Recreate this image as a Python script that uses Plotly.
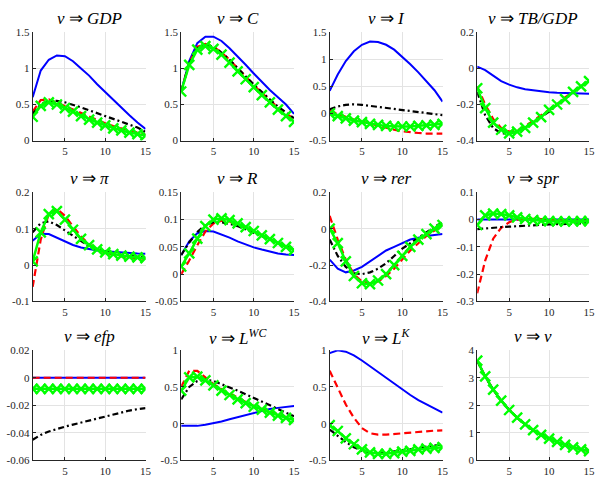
import plotly.graph_objects as go

periods = list(range(1, 16))

titles = ["<i>v</i> ⇒ <i>GDP</i>", "<i>v</i> ⇒ <i>C</i>", "<i>v</i> ⇒ <i>I</i>", "<i>v</i> ⇒ <i>TB/GDP</i>",
          "<i>v</i> ⇒ <i>π</i>", "<i>v</i> ⇒ <i>R</i>", "<i>v</i> ⇒ <i>rer</i>", "<i>v</i> ⇒ <i>spr</i>",
          "<i>v</i> ⇒ <i>efp</i>", "<i>v</i> ⇒ <i>L<sup>WC</sup></i>", "<i>v</i> ⇒ <i>L<sup>K</sup></i>", "<i>v</i> ⇒ <i>v</i>"]

# series per panel: blue, red, black, green
gdp_blue = [0.6, 0.97, 1.12, 1.18, 1.17, 1.1, 1.0, 0.9, 0.78, 0.67, 0.56, 0.45, 0.35, 0.25, 0.16]
gdp_red = [0.4, 0.56, 0.57, 0.53, 0.48, 0.43, 0.38, 0.33, 0.28, 0.24, 0.2, 0.17, 0.14, 0.11, 0.08]
gdp_black = [0.37, 0.5, 0.55, 0.55, 0.53, 0.5, 0.46, 0.42, 0.38, 0.34, 0.3, 0.26, 0.22, 0.18, 0.12]
gdp_green = [0.33, 0.48, 0.53, 0.5, 0.45, 0.4, 0.34, 0.29, 0.25, 0.21, 0.17, 0.14, 0.11, 0.09, 0.07]

c_blue = [0.68, 1.1, 1.35, 1.44, 1.44, 1.38, 1.28, 1.17, 1.05, 0.93, 0.81, 0.7, 0.6, 0.5, 0.37]
c_red = [0.68, 1.08, 1.3, 1.34, 1.3, 1.22, 1.12, 1.0, 0.88, 0.77, 0.66, 0.56, 0.46, 0.38, 0.3]
c_black = [0.68, 1.07, 1.28, 1.33, 1.3, 1.22, 1.12, 1.0, 0.89, 0.78, 0.67, 0.57, 0.47, 0.39, 0.31]
c_green = [0.68, 1.05, 1.26, 1.31, 1.27, 1.19, 1.08, 0.96, 0.85, 0.74, 0.63, 0.53, 0.43, 0.34, 0.26]

i_blue = [0.42, 0.72, 0.97, 1.15, 1.27, 1.33, 1.32, 1.27, 1.18, 1.05, 0.91, 0.76, 0.6, 0.43, 0.22]
i_red = [0.05, -0.01, -0.06, -0.11, -0.15, -0.19, -0.23, -0.27, -0.3, -0.33, -0.35, -0.36, -0.37, -0.37, -0.37]
i_black = [0.08, 0.13, 0.16, 0.17, 0.16, 0.14, 0.12, 0.1, 0.08, 0.06, 0.04, 0.02, 0.0, -0.01, -0.03]
i_green = [0.0, -0.05, -0.09, -0.13, -0.16, -0.19, -0.21, -0.23, -0.24, -0.24, -0.24, -0.23, -0.22, -0.21, -0.19]

tb_blue = [0.01, -0.01, -0.04, -0.07, -0.09, -0.105, -0.115, -0.122, -0.128, -0.132, -0.135, -0.137, -0.138, -0.139, -0.14]
tb_red = [-0.1, -0.2, -0.28, -0.33, -0.35, -0.345, -0.32, -0.29, -0.26, -0.23, -0.2, -0.16, -0.13, -0.1, -0.07]
tb_black = [-0.13, -0.26, -0.33, -0.36, -0.36, -0.35, -0.33, -0.3, -0.27, -0.24, -0.2, -0.17, -0.13, -0.1, -0.07]
tb_green = [-0.11, -0.22, -0.3, -0.34, -0.36, -0.35, -0.33, -0.3, -0.27, -0.23, -0.2, -0.17, -0.13, -0.1, -0.07]

pi_blue = [0.067, 0.086, 0.085, 0.075, 0.064, 0.055, 0.048, 0.043, 0.04, 0.038, 0.036, 0.034, 0.033, 0.032, 0.031]
pi_red = [-0.06, 0.07, 0.14, 0.155, 0.135, 0.105, 0.078, 0.057, 0.043, 0.034, 0.028, 0.024, 0.021, 0.019, 0.017]
pi_black = [0.09, 0.115, 0.12, 0.11, 0.095, 0.08, 0.065, 0.052, 0.043, 0.037, 0.032, 0.028, 0.025, 0.022, 0.02]
pi_green = [0.01, 0.09, 0.14, 0.148, 0.125, 0.097, 0.072, 0.055, 0.043, 0.035, 0.03, 0.026, 0.023, 0.021, 0.019]

r_blue = [0.035, 0.06, 0.075, 0.079, 0.078, 0.073, 0.067, 0.06, 0.054, 0.049, 0.045, 0.041, 0.038, 0.036, 0.035]
r_red = [0.0, 0.025, 0.053, 0.078, 0.093, 0.098, 0.096, 0.091, 0.085, 0.078, 0.071, 0.064, 0.057, 0.05, 0.044]
r_black = [0.035, 0.058, 0.077, 0.09, 0.095, 0.095, 0.092, 0.088, 0.082, 0.076, 0.07, 0.063, 0.057, 0.051, 0.045]
r_green = [0.014, 0.038, 0.065, 0.088, 0.1, 0.102, 0.099, 0.093, 0.086, 0.079, 0.071, 0.064, 0.057, 0.05, 0.044]

rer_blue = [-0.17, -0.22, -0.24, -0.23, -0.21, -0.18, -0.15, -0.12, -0.1, -0.08, -0.06, -0.05, -0.04, -0.035, -0.03]
rer_red = [0.07, -0.06, -0.17, -0.25, -0.29, -0.3, -0.29, -0.26, -0.22, -0.17, -0.12, -0.08, -0.04, -0.01, 0.02]
rer_black = [-0.06, -0.15, -0.21, -0.245, -0.25, -0.24, -0.22, -0.19, -0.15, -0.11, -0.08, -0.05, -0.02, 0.01, 0.035]
rer_green = [0.0, -0.08, -0.18, -0.26, -0.3, -0.305, -0.285, -0.25, -0.2, -0.15, -0.1, -0.06, -0.03, 0.0, 0.02]

spr_blue = [0.0, 0.0, 0.0, 0.0, 0.0, 0.0, 0.0, 0.0, 0.0, 0.0, 0.0, 0.0, 0.0, 0.0, 0.0]
spr_red = [-0.27, -0.15, -0.07, -0.03, -0.01, 0.0, 0.003, 0.003, 0.002, 0.0, -0.002, -0.003, -0.004, -0.004, -0.004]
spr_black = [-0.035, -0.032, -0.03, -0.028, -0.026, -0.024, -0.022, -0.021, -0.019, -0.018, -0.017, -0.016, -0.015, -0.014, -0.013]
spr_green = [-0.02, 0.015, 0.022, 0.02, 0.015, 0.008, 0.002, -0.002, -0.005, -0.006, -0.007, -0.007, -0.007, -0.006, -0.006]

efp_blue = [0.0, 0.0, 0.0, 0.0, 0.0, 0.0, 0.0, 0.0, 0.0, 0.0, 0.0, 0.0, 0.0, 0.0, 0.0]
efp_red = [0.0, 0.0, 0.0, 0.0, 0.0, 0.0, 0.0, 0.0, 0.0, 0.0, 0.0, 0.0, 0.0, 0.0, 0.0]
efp_black = [-0.045, -0.0415, -0.039, -0.037, -0.0355, -0.034, -0.0325, -0.031, -0.0295, -0.028, -0.0265, -0.025, -0.0238, -0.0228, -0.022]
efp_green = [-0.008, -0.008, -0.008, -0.008, -0.008, -0.008, -0.008, -0.008, -0.008, -0.008, -0.008, -0.008, -0.008, -0.008, -0.008]

lwc_blue = [-0.03, -0.035, -0.03, -0.015, 0.005, 0.03, 0.06, 0.09, 0.12, 0.15, 0.175, 0.2, 0.215, 0.23, 0.24]
lwc_red = [0.5, 0.72, 0.72, 0.63, 0.54, 0.47, 0.41, 0.35, 0.29, 0.24, 0.2, 0.16, 0.12, 0.09, 0.06]
lwc_black = [0.33, 0.5, 0.58, 0.6, 0.58, 0.54, 0.5, 0.45, 0.4, 0.35, 0.3, 0.25, 0.2, 0.15, 0.1]
lwc_green = [0.45, 0.63, 0.64, 0.59, 0.52, 0.45, 0.39, 0.33, 0.28, 0.23, 0.19, 0.15, 0.11, 0.08, 0.05]

lk_blue = [0.96, 1.0, 0.98, 0.93, 0.86, 0.78, 0.7, 0.62, 0.54, 0.46, 0.39, 0.32, 0.26, 0.2, 0.15]
lk_red = [0.72, 0.48, 0.26, 0.08, -0.06, -0.13, -0.15, -0.15, -0.14, -0.13, -0.12, -0.11, -0.1, -0.095, -0.09]
lk_black = [-0.08, -0.17, -0.25, -0.32, -0.37, -0.39, -0.4, -0.39, -0.38, -0.37, -0.35, -0.33, -0.31, -0.3, -0.28]
lk_green = [-0.02, -0.1, -0.2, -0.28, -0.35, -0.39, -0.41, -0.41, -0.4, -0.38, -0.37, -0.35, -0.34, -0.33, -0.32]

v_all = [3.62, 3.05, 2.57, 2.17, 1.83, 1.55, 1.31, 1.1, 0.93, 0.79, 0.67, 0.56, 0.47, 0.4, 0.34]

panels = [
    (gdp_blue, gdp_red, gdp_black, gdp_green),
    (c_blue, c_red, c_black, c_green),
    (i_blue, i_red, i_black, i_green),
    (tb_blue, tb_red, tb_black, tb_green),
    (pi_blue, pi_red, pi_black, pi_green),
    (r_blue, r_red, r_black, r_green),
    (rer_blue, rer_red, rer_black, rer_green),
    (spr_blue, spr_red, spr_black, spr_green),
    (efp_blue, efp_red, efp_black, efp_green),
    (lwc_blue, lwc_red, lwc_black, lwc_green),
    (lk_blue, lk_red, lk_black, lk_green),
    (v_all, v_all, v_all, v_all),
]

y_ticks = [
    [0, 0.5, 1, 1.5], [0, 0.5, 1, 1.5], [-0.5, 0, 0.5, 1, 1.5], [-0.4, -0.2, 0, 0.2],
    [-0.1, 0, 0.1, 0.2], [-0.05, 0, 0.05, 0.1, 0.15], [-0.4, -0.2, 0, 0.2], [-0.3, -0.2, -0.1, 0, 0.1],
    [-0.06, -0.04, -0.02, 0, 0.02], [-0.5, 0, 0.5, 1], [-0.5, 0, 0.5, 1], [0, 1, 2, 3, 4],
]
y_labels = [
    ["0", "0.5", "1", "1.5"], ["0", "0.5", "1", "1.5"], ["-0.5", "0", "0.5", "1", "1.5"], ["-0.4", "-0.2", "0", "0.2"],
    ["-0.1", "0", "0.1", "0.2"], ["-0.05", "0", "0.05", "0.1", "0.15"], ["-0.4", "-0.2", "0", "0.2"], ["-0.3", "-0.2", "-0.1", "0", "0.1"],
    ["-0.06", "-0.04", "-0.02", "0", "0.02"], ["-0.5", "0", "0.5", "1"], ["-0.5", "0", "0.5", "1"], ["0", "1", "2", "3", "4"],
]
x_ticks = [5, 10, 15]
x_labels = ["5", "10", "15"]

W, H = 602, 482
col_px = [(33, 147), (183, 297), (333, 447), (482, 595)]
row_px = [(27, 138), (191, 303), (353, 466)]
title_y_px = [13, 177, 339]

SERIF = "Liberation Serif, Times New Roman, serif"

fig = go.Figure()
styles = [
    dict(color="#0000FF", width=2, dash="solid"),
    dict(color="#FF0000", width=2.2, dash="7px,4px"),
    dict(color="#000000", width=2.2, dash="6px,3px,2px,3px"),
]

layout = {}
annotations = []
for k in range(12):
    r, c = divmod(k, 4)
    ax = "" if k == 0 else str(k + 1)
    xa, ya = "x" + ax, "y" + ax
    series = panels[k]
    for s in range(3):
        fig.add_trace(go.Scatter(x=periods, y=series[s], mode="lines", line=styles[s],
                                 xaxis=xa, yaxis=ya, showlegend=False))
    fig.add_trace(go.Scatter(x=periods, y=series[3], mode="lines+markers",
                             line=dict(color="#00FF00", width=2.5),
                             marker=dict(symbol="x-thin", size=10, line=dict(color="#00FF00", width=2.4)),
                             xaxis=xa, yaxis=ya, showlegend=False))
    x0, x1 = col_px[c]
    y0, y1 = row_px[r]
    common = dict(showgrid=True, gridcolor="#e3e3e3", gridwidth=1, zeroline=False,
                  showline=True, linecolor="#262626", linewidth=1, ticks="inside", ticklen=3,
                  tickcolor="#262626", tickfont=dict(family=SERIF, size=11, color="#262626"))
    layout["xaxis" + ax] = dict(domain=[x0 / W, x1 / W], range=[1, 15], anchor=ya,
                                tickvals=x_ticks, ticktext=x_labels, **common)
    yt = y_ticks[k]
    layout["yaxis" + ax] = dict(domain=[1 - y1 / H, 1 - y0 / H], range=[yt[0], yt[-1]], anchor=xa,
                                tickvals=yt, ticktext=y_labels[k], **common)
    annotations.append(dict(text=titles[k], x=(x0 + x1) / 2 / W, y=1 - title_y_px[r] / H,
                            xref="paper", yref="paper", showarrow=False, xanchor="center", yanchor="middle",
                            font=dict(family=SERIF, size=17, color="#000000")))

fig.update_layout(width=W, height=H, margin=dict(l=0, r=0, t=0, b=0),
                  font=dict(family=SERIF),
                  paper_bgcolor="white", plot_bgcolor="white", annotations=annotations, **layout)
fig.write_html("out.html", config={"displayModeBar": False},
               post_script="document.body.style.margin='0px';document.body.style.padding='0px';")
